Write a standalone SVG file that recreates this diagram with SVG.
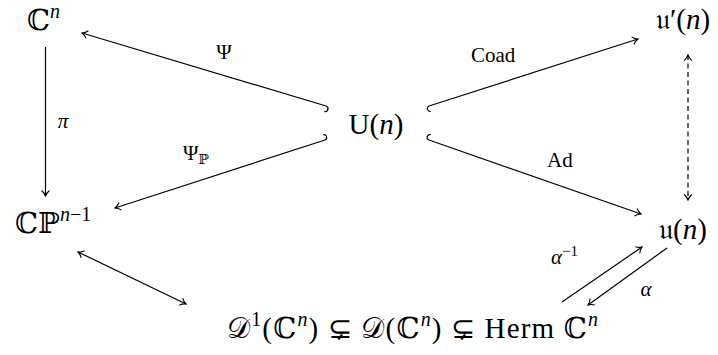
<svg xmlns="http://www.w3.org/2000/svg" width="718" height="355" viewBox="0 0 718 355">
<defs>
<style>
.node{font-family:"Liberation Serif","DejaVu Serif",serif;font-size:29px;fill:#000}
.lbl{font-family:"Liberation Serif","DejaVu Serif",serif;font-size:21px;fill:#000}
.it{font-style:italic}
.ln{stroke:#000;stroke-width:1.2;fill:none}
.dash{stroke-dasharray:5 3.5}
</style>
<marker id="ah" viewBox="-7 -5 8 10" refX="0" refY="0" markerWidth="8" markerHeight="10" markerUnits="userSpaceOnUse" orient="auto-start-reverse">
<path d="M-5.5,-4 C-3.5,-1.5 -1.5,-0.5 0,0 C-1.5,0.5 -3.5,1.5 -5.5,4" fill="none" stroke="#000" stroke-width="1.1"/>
</marker>
</defs>
<rect width="718" height="355" fill="#fff"/>
<g id="connectors">
<path class="ln" d="M45.5,47 L45.5,196" marker-end="url(#ah)"/>
<path class="ln" d="M326,106 L82,33" marker-end="url(#ah)"/>
<path class="ln" d="M326,106 A2.8,2.8 0 0 1 324.4,111.4"/>
<path class="ln" d="M325,140 L115,208" marker-end="url(#ah)"/>
<path class="ln" d="M325,140 A2.8,2.8 0 0 0 323.3,134.7"/>
<path class="ln" d="M429,106 L638,39" marker-end="url(#ah)"/>
<path class="ln" d="M429,106 A2.8,2.8 0 0 0 430.7,111.3"/>
<path class="ln" d="M429,140 L641,214" marker-end="url(#ah)"/>
<path class="ln" d="M429,140 A2.8,2.8 0 0 1 430.8,134.7"/>
<path class="ln dash" d="M688,55 L688,200" marker-start="url(#ah)" marker-end="url(#ah)"/>
<path class="ln" d="M78,252 L186,304" marker-start="url(#ah)" marker-end="url(#ah)"/>
<path class="ln" d="M562,302 L642,247" marker-end="url(#ah)"/>
<path class="ln" d="M667,248 L588,305" marker-end="url(#ah)"/>
<text class="lbl" x="224" y="59" text-anchor="middle">Ψ</text>
<text class="lbl it" x="63" y="128" text-anchor="middle">π</text>
<text class="lbl" x="183" y="160">Ψ<tspan font-size="14" dy="4">ℙ</tspan></text>
<text class="lbl" x="471" y="62">Coad</text>
<text class="lbl" x="547" y="167">Ad</text>
<text class="lbl" x="551" y="264"><tspan class="it">α</tspan><tspan font-size="15" dy="-8">−1</tspan></text>
<text class="lbl it" x="646" y="296" text-anchor="middle">α</text>
</g>
<g id="n-cn"><text class="node" x="27" y="30">ℂ<tspan class="it" font-size="20" dy="-12">n</tspan></text></g>
<g id="n-cpn"><text class="node" x="15" y="233">ℂℙ<tspan font-size="20" dy="-12"><tspan class="it">n</tspan>−1</tspan></text></g>
<g id="n-un"><text class="node" x="376" y="134" text-anchor="middle">U(<tspan class="it">n</tspan>)</text></g>
<g id="n-uprime"><text class="node" x="656" y="29">𝔲′(<tspan class="it">n</tspan>)</text></g>
<g id="n-u"><text class="node" x="659" y="239">𝔲(<tspan class="it">n</tspan>)</text></g>
<g id="n-d"><text class="node" x="227" y="338" textLength="371" lengthAdjust="spacing">𝒟<tspan font-size="20" dy="-12">1</tspan><tspan dy="12">(ℂ</tspan><tspan class="it" font-size="20" dy="-12">n</tspan><tspan dy="12">) ⊊ 𝒟(ℂ</tspan><tspan class="it" font-size="20" dy="-12">n</tspan><tspan dy="12">) ⊊ Herm ℂ</tspan><tspan class="it" font-size="20" dy="-12">n</tspan></text></g>
</svg>
